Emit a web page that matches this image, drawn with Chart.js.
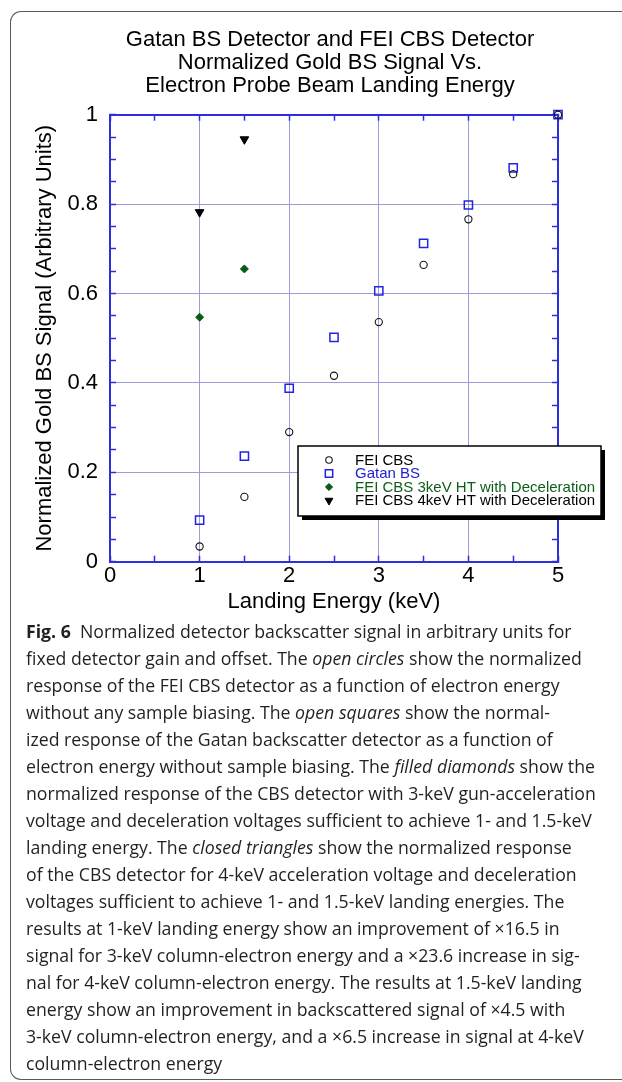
<!DOCTYPE html>
<html>
<head>
<meta charset="utf-8">
<script src="https://cdn.jsdelivr.net/npm/chart.js@4.4.1/dist/chart.umd.min.js"></script>
<style>
html, body { margin: 0; padding: 0; background: #fff; overflow: hidden; width: 622px; height: 1082px; }
#frame { position: absolute; left: 10px; top: 11px; width: 700px; height: 1067px; border: 1.5px solid #5a5a5a; border-right: none; border-radius: 11px 0 0 11px; }
#c { position: absolute; left: 0; top: 0; }
#caption { position: absolute; left: 26px; top: 618px; font-family: "Open Sans"; font-size: 17.7px; line-height: 27px; color: #231f20; white-space: nowrap; }
#caption div { height: 27px; }
</style>
</head>
<body>
<div id="frame"></div>
<canvas id="c" width="660" height="620" style="width:660px;height:620px"></canvas>
<div id="caption">
<div><b>Fig. 6</b>&nbsp; Normalized detector backscatter signal in arbitrary units for</div>
<div>fixed detector gain and offset. The <i>open circles</i> show the normalized</div>
<div>response of the FEI CBS detector as a function of electron energy</div>
<div>without any sample biasing. The <i>open squares</i> show the normal-</div>
<div>ized response of the Gatan backscatter detector as a function of</div>
<div>electron energy without sample biasing. The <i>filled diamonds</i> show the</div>
<div>normalized response of the CBS detector with 3-keV gun-acceleration</div>
<div>voltage and deceleration voltages sufficient to achieve 1- and 1.5-keV</div>
<div>landing energy. The <i>closed triangles</i> show the normalized response</div>
<div>of the CBS detector for 4-keV acceleration voltage and deceleration</div>
<div>voltages sufficient to achieve 1- and 1.5-keV landing energies. The</div>
<div>results at 1-keV landing energy show an improvement of ×16.5 in</div>
<div>signal for 3-keV column-electron energy and a ×23.6 increase in sig-</div>
<div>nal for 4-keV column-electron energy. The results at 1.5-keV landing</div>
<div>energy show an improvement in backscattered signal of ×4.5 with</div>
<div>3-keV column-electron energy, and a ×6.5 increase in signal at 4-keV</div>
<div>column-electron energy</div>
</div>
<script>
// landing energies (keV)
const energies = [1, 1.5, 2, 2.5, 3, 3.5, 4, 4.5, 5];
const decelEnergies = [1, 1.5];

// normalized signal
const feiCbs = [0.034, 0.145, 0.290, 0.416, 0.536, 0.664, 0.766, 0.867, 1.0];
const gatanBs = [0.093, 0.236, 0.388, 0.502, 0.606, 0.712, 0.798, 0.881, 1.0];
const cbs3keV = [0.547, 0.655];
const cbs4keV = [0.782, 0.945];

const seriesNames = ['FEI CBS', 'Gatan BS', 'FEI CBS 3keV HT with Deceleration', 'FEI CBS 4keV HT with Deceleration'];
const seriesText = ['#000', '#2020d0', '#0e5e1a', '#000'];
const titleLines = ['Gatan BS Detector and FEI CBS Detector', 'Normalized Gold BS Signal Vs.', 'Electron Probe Beam Landing Energy'];
const xLabels = [0, 1, 2, 3, 4, 5];
const yLabels = [0, 0.2, 0.4, 0.6, 0.8, 1];

const axisBlue = '#2e2ee0';
const gridBlue = '#9d9dd8';
const font = 'Liberation Sans';

Chart.defaults.font.family = font;

function pts(xs, ys) {
  return xs.map((x, i) => ({x: x, y: ys[i]}));
}
function onList(v, list) {
  return list.some(l => Math.abs(l - v) < 1e-6);
}

// legend box drawn inside the plot, with a drop shadow
const boxLegend = {
  id: 'boxLegend',
  afterDraw(chart) {
    const ctx = chart.ctx;
    const bx = 298, by = 446, bw = 303, bh = 70;
    ctx.save();
    ctx.fillStyle = '#000';
    ctx.fillRect(bx + 4, by + 4, bw, bh);
    ctx.fillStyle = '#fff';
    ctx.fillRect(bx, by, bw, bh);
    ctx.strokeStyle = '#000';
    ctx.lineWidth = 1.5;
    ctx.strokeRect(bx, by, bw, bh);
    ctx.font = '15px "' + font + '"';
    ctx.textBaseline = 'middle';
    chart.data.datasets.forEach((ds, i) => {
      const y = 460 + i * 13.5;
      ctx.fillStyle = ds.pointBackgroundColor;
      ctx.strokeStyle = ds.pointBorderColor;
      ctx.lineWidth = ds.pointBorderWidth;
      Chart.helpers.drawPoint(ctx, {
        pointStyle: ds.pointStyle,
        rotation: ds.pointRotation || 0,
        radius: ds.pointRadius * 0.9,
        borderWidth: ds.pointBorderWidth
      }, 329, y);
      ctx.fillStyle = seriesText[i];
      ctx.fillText(ds.label, 355, y + 0.5);
    });
    ctx.restore();
  }
};

const tickFont = {family: font, size: 22};

const config = {
  type: 'scatter',
  data: {
    datasets: [{
      label: seriesNames[0],
      data: pts(energies, feiCbs),
      pointStyle: 'circle',
      pointRadius: 3.6,
      pointBorderColor: '#111',
      pointBackgroundColor: 'rgba(0,0,0,0)',
      pointBorderWidth: 1.1,
      clip: false
    }, {
      label: seriesNames[1],
      data: pts(energies, gatanBs),
      pointStyle: 'rect',
      pointRadius: 5.8,
      pointBorderColor: '#2424e0',
      pointBackgroundColor: 'rgba(0,0,0,0)',
      pointBorderWidth: 1.5,
      clip: false
    }, {
      label: seriesNames[2],
      data: pts(decelEnergies, cbs3keV),
      pointStyle: 'rectRot',
      pointRadius: 4,
      pointBorderColor: '#0a5a14',
      pointBackgroundColor: '#0a5a14',
      pointBorderWidth: 1,
      clip: false
    }, {
      label: seriesNames[3],
      data: pts(decelEnergies, cbs4keV),
      pointStyle: 'triangle',
      pointRotation: 180,
      pointRadius: 5,
      pointBorderColor: '#000',
      pointBackgroundColor: '#000',
      pointBorderWidth: 1,
      clip: false
    }]
  },
  options: {
    responsive: false,
    animation: false,
    events: [],
    layout: {padding: 0},
    plugins: {
      legend: {display: false},
      tooltip: {enabled: false},
      title: {
        display: true,
        text: titleLines,
        color: '#000',
        font: {family: font, size: 22, weight: 'normal', lineHeight: 1.05},
        padding: {top: 28.5, bottom: 16.9}
      }
    },
    scales: {
      x: {
        type: 'linear', position: 'bottom', min: 0, max: 5,
        border: {color: axisBlue, width: 2},
        grid: {
          color: c => (c.tick && onList(c.tick.value, xLabels)) ? gridBlue : 'rgba(0,0,0,0)',
          tickColor: axisBlue, tickLength: -6, tickWidth: 1.5
        },
        ticks: {
          stepSize: 0.5, maxTicksLimit: 100, autoSkip: false, maxRotation: 0,
          padding: 6.6, color: '#000', font: tickFont,
          callback: v => onList(v, xLabels) ? String(v) : ''
        },
        title: {display: true, text: 'Landing Energy (keV)', color: '#000', font: tickFont, padding: {top: 0, bottom: 5.1}},
        afterFit: s => { s.height = 58.3; }
      },
      xTop: {
        type: 'linear', position: 'top', min: 0, max: 5,
        border: {color: axisBlue, width: 2},
        grid: {drawOnChartArea: false, tickColor: axisBlue, tickLength: -6, tickWidth: 1.5},
        ticks: {stepSize: 0.5, maxTicksLimit: 100, autoSkip: false, display: false},
        afterFit: s => { s.height = 0; }
      },
      y: {
        type: 'linear', position: 'left', min: 0, max: 1,
        border: {color: axisBlue, width: 2},
        grid: {
          color: c => (c.tick && onList(c.tick.value, yLabels)) ? gridBlue : 'rgba(0,0,0,0)',
          tickColor: axisBlue, tickLength: -6, tickWidth: 1.5
        },
        ticks: {
          stepSize: 0.05, maxTicksLimit: 100, autoSkip: false,
          padding: 18, color: '#000', font: tickFont,
          callback: v => onList(v, yLabels) ? String(+v.toFixed(1)) : ''
        },
        title: {display: true, text: 'Normalized Gold BS Signal (Arbitrary Units)', color: '#000', font: tickFont, padding: {top: 31.8, bottom: 0}},
        afterFit: s => { s.width = 110; }
      },
      yRight: {
        type: 'linear', position: 'right', min: 0, max: 1,
        border: {color: axisBlue, width: 2},
        grid: {drawOnChartArea: false, tickColor: axisBlue, tickLength: -6, tickWidth: 1.5},
        ticks: {stepSize: 0.05, maxTicksLimit: 100, autoSkip: false, display: false},
        afterFit: s => { s.width = 102; }
      }
    }
  },
  plugins: [boxLegend]
};

const chart = new Chart(document.getElementById('c'), config);
</script>
</body>
</html>
